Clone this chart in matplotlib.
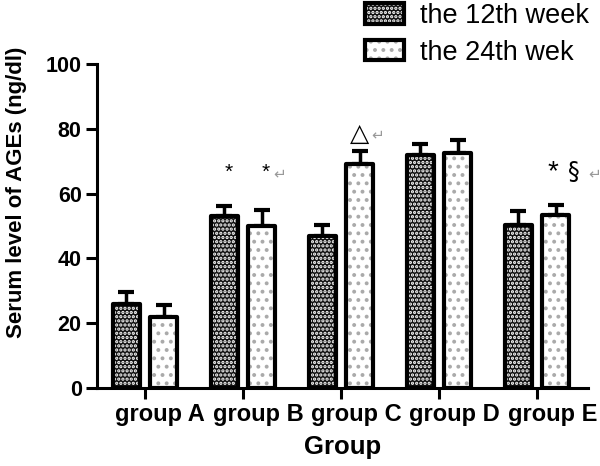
import matplotlib
matplotlib.use("Agg")
import matplotlib.pyplot as plt
from matplotlib.legend_handler import HandlerTuple
import numpy as np

groups = ["group A", "group B", "group C", "group D", "group E"]
week12 = [26, 53, 47, 72, 50.3]
week12_err = [3.7, 3.3, 3.2, 3.4, 4.4]
week24 = [22, 50, 69, 72.4, 53.5]
week24_err = [3.5, 5, 4, 4.1, 3]
series_labels = ["the 12th week", "the 24th wek"]

plt.rcParams['font.family'] = ['Liberation Sans', 'DejaVu Sans']
plt.rcParams['hatch.linewidth'] = 1.6

fig = plt.figure(figsize=(6, 4.66), dpi=100)
ax = fig.add_axes([97/600, 1-388/466, (588-97)/600, (388-64)/466])

x = np.arange(len(groups))
off = 0.19
w = 0.27

f1 = ax.bar(x - off, week12, w, color='#111111', hatch='....', edgecolor='white', linewidth=0, zorder=2)
o1 = ax.bar(x - off, week12, w, fill=False, edgecolor='black', linewidth=3, joinstyle='round', zorder=3)
f2 = ax.bar(x + off, week24, w, color='white', hatch='..', edgecolor='#aaaaaa', linewidth=0, zorder=2)
o2 = ax.bar(x + off, week24, w, fill=False, edgecolor='black', linewidth=3, joinstyle='round', zorder=3)

ax.errorbar(x - off, week12, yerr=[np.zeros(len(x)), week12_err], fmt='none', ecolor='black',
            elinewidth=2.5, capsize=5.5, capthick=3, zorder=1)
ax.errorbar(x + off, week24, yerr=[np.zeros(len(x)), week24_err], fmt='none', ecolor='black',
            elinewidth=2.5, capsize=5.5, capthick=3, zorder=1)

ax.set_xlim(-0.49, 4.52)
ax.set_ylim(0, 100)
ax.set_yticks(np.arange(0, 101, 20))
ax.set_xticks(x)
ax.set_xticklabels([])
ax.set_xticks(x + 0.155, minor=True)
ax.set_xticklabels(groups, minor=True, fontsize=17, fontweight='bold')
ax.tick_params(axis='x', which='minor', length=0, pad=11)
for lab in ax.get_yticklabels():
    lab.set_fontsize(15.5)
    lab.set_fontweight('bold')

for s in ['top', 'right']:
    ax.spines[s].set_visible(False)
for s in ['left', 'bottom']:
    ax.spines[s].set_linewidth(2.2)
ax.tick_params(which='major', direction='out', length=8, width=2.2, pad=3)

ax.set_ylabel("Serum level of AGEs (ng/dl)", fontsize=16, fontweight='bold')
ax.yaxis.set_label_coords(-0.143, 0.605)
ax.set_xlabel("Group", fontsize=18.5, fontweight='bold', labelpad=6)

# annotations
ax.text(0.857, 66.7, "*", fontsize=15, ha='center', va='center')
ax.text(1.235, 66.7, "*", fontsize=15, ha='center', va='center')
ax.text(1.37, 66.0, "↵", fontsize=11, color='#999999', ha='center', va='center', family=['DejaVu Sans'])
ax.text(2.19, 78.5, "△", fontsize=18, ha='center', va='center', family=['DejaVu Sans'])
ax.text(2.37, 78.0, "↵", fontsize=11, color='#999999', ha='center', va='center', family=['DejaVu Sans'])
ax.text(4.16, 66.5, "*", fontsize=20, ha='center', va='center')
ax.text(4.38, 66.7, "§", fontsize=17, ha='center', va='center', family=['DejaVu Sans'])
ax.text(4.59, 66.0, "↵", fontsize=11, color='#999999', ha='center', va='center', family=['DejaVu Sans'], clip_on=False)

fig.legend([(f1[0], o1[0]), (f2[0], o2[0])], series_labels,
           handler_map={tuple: HandlerTuple(ndivide=1, pad=0)},
           loc='upper left', bbox_to_anchor=(362/600, 1.0), frameon=False,
           fontsize=19.5, handlelength=1.45, handleheight=0.8, handletextpad=0.6,
           labelspacing=0.4, borderpad=0.1, borderaxespad=0)

fig.savefig("out.png", dpi=100)
